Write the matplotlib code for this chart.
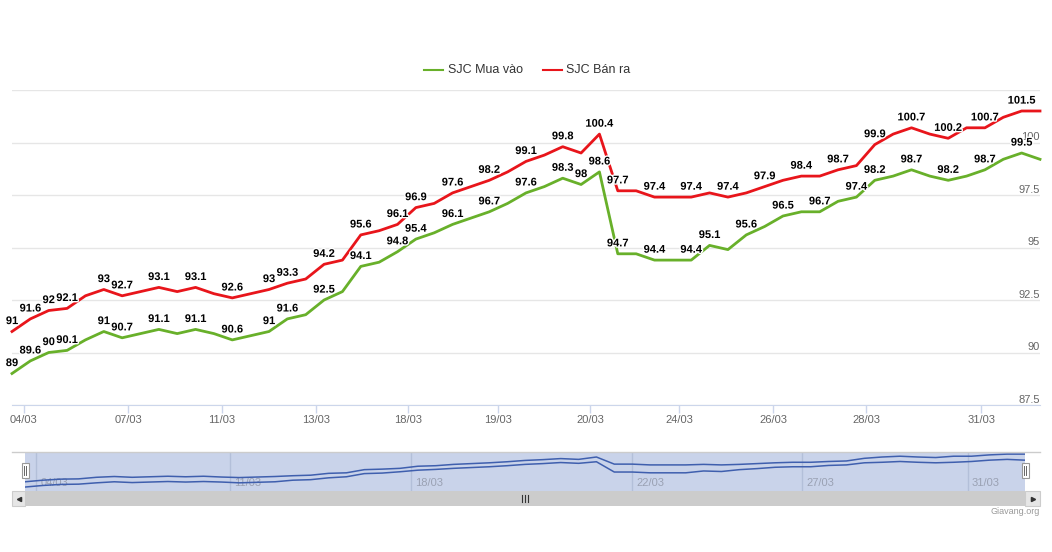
import matplotlib
matplotlib.use('Agg')
import matplotlib.pyplot as plt
import matplotlib.patheffects as pe
from matplotlib.patches import Rectangle
from matplotlib.lines import Line2D

plt.rcParams['font.family'] = ['Liberation Sans', 'DejaVu Sans']

# giá vàng SJC (triệu đồng/lượng), mỗi điểm là một lần cập nhật
mua_vao = [89.0, 89.6, 90.0, 90.1, 90.6, 91.0, 90.7, 90.9, 91.1, 90.9,
           91.1, 90.9, 90.6, 90.8, 91.0, 91.6, 91.8, 92.5, 92.9, 94.1,
           94.3, 94.8, 95.4, 95.7, 96.1, 96.4, 96.7, 97.1, 97.6, 97.9,
           98.3, 98.0, 98.6, 94.7, 94.7, 94.4, 94.4, 94.4, 95.1, 94.9,
           95.6, 96.0, 96.5, 96.7, 96.7, 97.2, 97.4, 98.2, 98.4, 98.7,
           98.4, 98.2, 98.4, 98.7, 99.2, 99.5, 99.2]
ban_ra = [91.0, 91.6, 92.0, 92.1, 92.7, 93.0, 92.7, 92.9, 93.1, 92.9,
          93.1, 92.8, 92.6, 92.8, 93.0, 93.3, 93.5, 94.2, 94.4, 95.6,
          95.8, 96.1, 96.9, 97.1, 97.6, 97.9, 98.2, 98.6, 99.1, 99.4,
          99.8, 99.5, 100.4, 97.7, 97.7, 97.4, 97.4, 97.4, 97.6, 97.4,
          97.6, 97.9, 98.2, 98.4, 98.4, 98.7, 98.9, 99.9, 100.4, 100.7,
          100.4, 100.2, 100.7, 100.7, 101.2, 101.5, 101.5]

# điểm có nhãn số (các nhãn chồng nhau bị ẩn như trên biểu đồ gốc)
nhan_mua = [0, 1, 2, 3, 5, 6, 8, 10, 12, 14, 15, 17, 19, 21, 22, 24, 26, 28,
            30, 31, 32, 33, 35, 37, 38, 40, 42, 44, 46, 47, 49, 51, 53, 55]
nhan_ban = [0, 1, 2, 3, 5, 6, 8, 10, 12, 14, 15, 17, 19, 21, 22, 24, 26, 28,
            30, 32, 33, 35, 37, 39, 41, 43, 45, 47, 49, 51, 53, 55]

ngay = ['04/03', '07/03', '11/03', '13/03', '18/03', '19/03', '20/03',
        '24/03', '26/03', '28/03', '31/03']
vi_tri_ngay = [0.65, 6.32, 11.44, 16.56, 21.57, 26.47, 31.49, 36.33, 41.46, 46.52, 52.79]
nav_ngay = ['04/03', '11/03', '18/03', '22/03', '27/03', '31/03']
nav_vi_tri = [0.64, 11.48, 21.6, 34.0, 43.5, 52.8]
muc_y = [87.5, 90, 92.5, 95, 97.5, 100, 102.5]

XANH = '#68b02a'
DO = '#e8151b'

W, H = 1052, 552
fig = plt.figure(figsize=(W / 100, H / 100), dpi=100)


def box(x0, y0, x1, y1):
    # toạ độ pixel (gốc trên-trái) -> toạ độ figure
    return [x0 / W, 1 - y1 / H, (x1 - x0) / W, (y1 - y0) / H]


def rect(x0, y0, x1, y1, **kw):
    b = box(x0, y0, x1, y1)
    fig.add_artist(Rectangle((b[0], b[1]), b[2], b[3], transform=fig.transFigure, **kw))


def line(xs, ys, **kw):
    fig.add_artist(Line2D([x / W for x in xs], [1 - y / H for y in ys],
                          transform=fig.transFigure, **kw))


# --- biểu đồ chính ---
ax = fig.add_axes(box(12, 90, 1040, 405))
x = list(range(len(ban_ra)))
ax.set_xlim(0, len(ban_ra) - 1)
ax.set_ylim(87.5, 102.5)
ax.set_yticks(muc_y)
ax.yaxis.grid(True, color='#e6e6e6', lw=1)
ax.set_axisbelow(True)
ax.tick_params(axis='y', length=0, labelleft=False)
ax.set_xticks(vi_tri_ngay, ngay)
ax.tick_params(axis='x', length=6, width=1, color='#ccd6eb', labelsize=8,
               labelcolor='#666666', pad=1.5)
for s in ['top', 'left', 'right']:
    ax.spines[s].set_visible(False)
ax.spines['bottom'].set_color('#ccd6eb')

for v in muc_y[:-1]:
    ax.annotate(f'{v:g}', xy=(1, v), xycoords=('axes fraction', 'data'),
                xytext=(0, 1.5), textcoords='offset points', ha='right',
                va='baseline', fontsize=8, color='#666666', zorder=2)

ax.plot(x, mua_vao, color=XANH, lw=2, solid_joinstyle='round', clip_on=False, zorder=3)
ax.plot(x, ban_ra, color=DO, lw=2, solid_joinstyle='round', clip_on=False, zorder=3)

halo = [pe.withStroke(linewidth=2, foreground='white')]
for series, idx in [(mua_vao, nhan_mua), (ban_ra, nhan_ban)]:
    for i in idx:
        ax.annotate(f'{series[i]:g}', xy=(i, series[i]), xytext=(0, 7.5),
                    textcoords='offset points', ha='center', va='center',
                    fontsize=8, fontweight='bold', color='black',
                    path_effects=halo, zorder=5)

# chú thích
line([424, 443], [70, 70], color=XANH, lw=1.5)
fig.text(448 / W, 1 - 70 / H, 'SJC Mua vào', va='center', fontsize=9, color='#333333')
line([543, 562], [70, 70], color=DO, lw=1.5)
fig.text(566 / W, 1 - 70 / H, 'SJC Bán ra', va='center', fontsize=9, color='#333333')

# --- thanh điều hướng ---
nav = fig.add_axes(box(25, 452, 1025, 491))
nav.set_facecolor('#c9d3ea')
nav.set_xlim(0, len(ban_ra) - 1)
nav.set_ylim(87.5, 102.3)
nav.set_xticks([])
nav.set_yticks([])
for s in nav.spines.values():
    s.set_visible(False)
for p, t in zip(nav_vi_tri, nav_ngay):
    nav.axvline(p, color='#b3bfd9', lw=1, zorder=1)
    nav.annotate(t, xy=(p, 0.2), xycoords=('data', 'axes fraction'), xytext=(3, 0),
                 textcoords='offset points', va='center', ha='left',
                 fontsize=8, color='#9aa1b3', zorder=2)
nav.plot(x, mua_vao, color='#3f5fae', lw=1.1, zorder=3)
nav.plot(x, ban_ra, color='#3f5fae', lw=1.1, zorder=3)
line([12, 1040], [452, 452], color='#cccccc', lw=1)

# tay nắm
for hx in [25, 1025]:
    rect(hx - 3.5, 463, hx + 3.5, 478, facecolor='white', edgecolor='#999999', lw=0.8)
    line([hx - 1, hx - 1], [466, 475], color='#666666', lw=0.7)
    line([hx + 1, hx + 1], [466, 475], color='#666666', lw=0.7)

# thanh cuộn
rect(25, 491, 1025, 506, facecolor='#cccccc', edgecolor='none')
rect(12, 491, 25, 506, facecolor='#e6e6e6', edgecolor='#cccccc', lw=0.8)
rect(1025, 491, 1040, 506, facecolor='#e6e6e6', edgecolor='#cccccc', lw=0.8)
line([18.5], [498.5], marker='<', markersize=3, color='#333333', lw=0)
line([1032.5], [498.5], marker='>', markersize=3, color='#333333', lw=0)
for gx in [522, 525, 528]:
    line([gx, gx], [495, 502], color='#333333', lw=0.8)

fig.text(1040 / W, 1 - 512 / H, 'Giavang.org', ha='right', va='center',
         fontsize=6.5, color='#999999')

fig.savefig('out.png', dpi=100)
